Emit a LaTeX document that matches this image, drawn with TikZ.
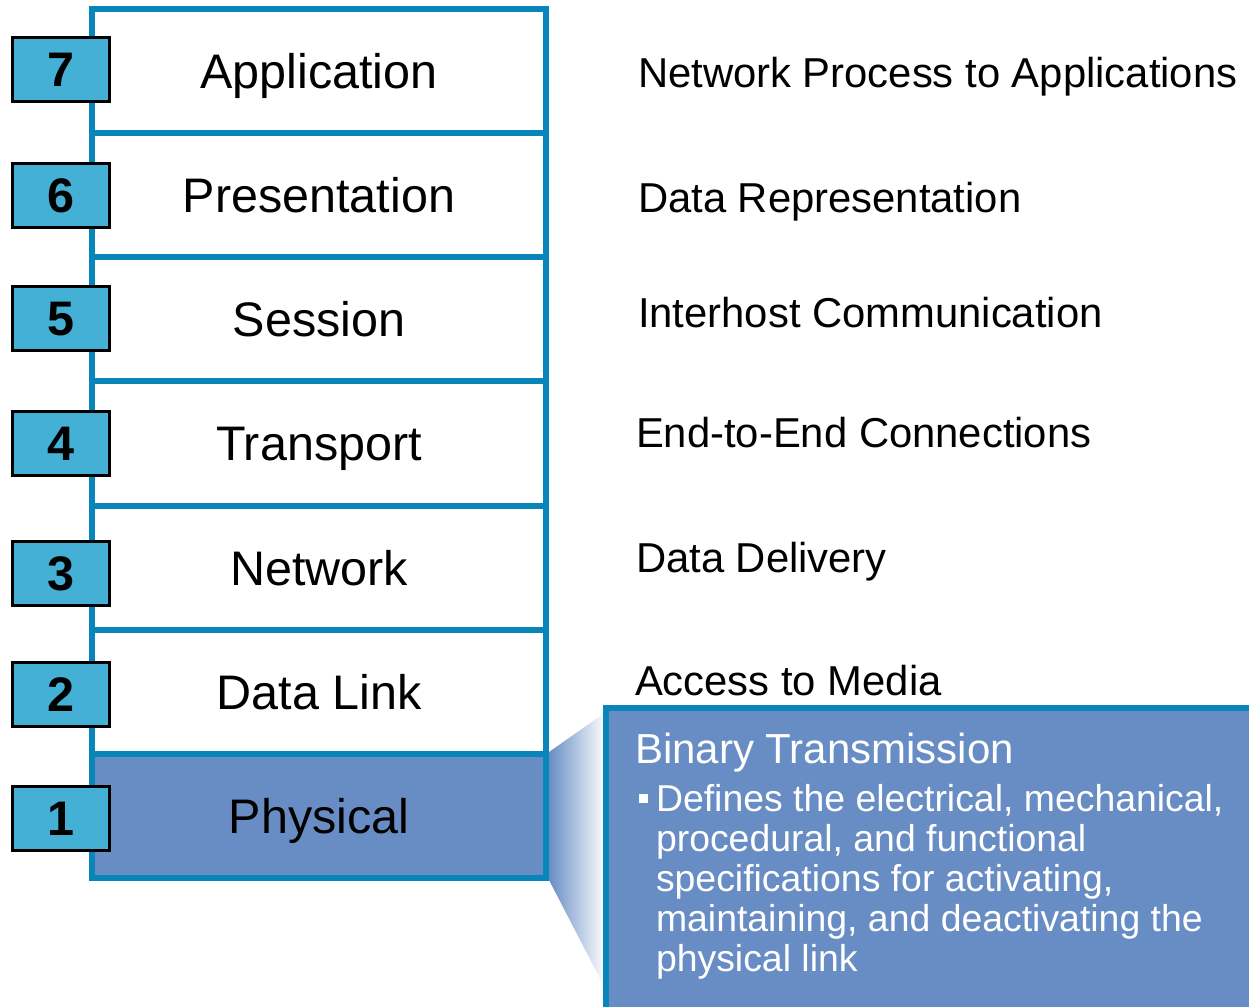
\documentclass[tikz,border=0pt]{standalone}
\usepackage{fontspec}
\setmainfont{Liberation Sans}
\definecolor{osiblue}{RGB}{8,134,186}
\definecolor{numblue}{RGB}{69,176,213}
\definecolor{physblue}{RGB}{104,141,196}
\begin{document}
\begin{tikzpicture}[x=0.5pt,y=-0.5pt,inner sep=0pt,outer sep=0pt,
layer/.style={draw=osiblue,fill=white,rectangle,line width=3pt,minimum width=227pt,minimum height=62.07pt,font=\fontsize{24.25}{29}\selectfont,text height=17.4pt,text depth=0pt},
numbox/.style={draw=black,fill=numblue,rectangle,line width=1.5pt,minimum width=48.5pt,minimum height=32pt,font=\bfseries\fontsize{24.25}{29}\selectfont,text height=17.4pt,text depth=0pt},
desc/.style={anchor=base west,font=\fontsize{20.9}{25}\selectfont}]
\useasboundingbox (0,0) rectangle (1249,1007);
\clip (0,0) rectangle (1249,1007);
\draw (319,71) node[layer] (app) {Application};
\draw (319,195.2) node[layer] (pres) {Presentation};
\draw (319,319.3) node[layer] (sess) {Session};
\draw (319,443.5) node[layer] (trans) {Transport};
\draw (319,567.6) node[layer] (net) {Network};
\draw (319,691.8) node[layer] (link) {Data Link};
\coordinate (wedgetop) at (606,712);
\coordinate (wedgebot) at (606,990);
\shade[left color=physblue,right color=white] (549,752) -- (wedgetop) -- (wedgebot) -- (549,880) -- cycle;
\draw (319,815.9) node[layer,fill=physblue] (phys) {Physical};
\draw (606,708) node[anchor=north west,draw=osiblue,fill=physblue,line width=3pt,minimum width=400pt,minimum height=200pt] (info) {};
\draw (60.5,69) node[numbox] (n7) {7};
\draw (60.5,195) node[numbox] (n6) {6};
\draw (60.5,318) node[numbox] (n5) {5};
\draw (60.5,443) node[numbox] (n4) {4};
\draw (60.5,573) node[numbox] (n3) {3};
\draw (60.5,694) node[numbox] (n2) {2};
\draw (60.5,818) node[numbox] (n1) {1};
\draw (638,87) node[desc] (d7) {Network Process to Applications};
\draw (638,212) node[desc] (d6) {Data Representation};
\draw (638,327) node[desc] (d5) {Interhost Communication};
\draw (636,447) node[desc] (d4) {End-to-End Connections};
\draw (636,572) node[desc] (d3) {Data Delivery};
\draw (635,695) node[desc] (d2) {Access to Media};
\draw (635,763) node[anchor=base west,text=white,font=\fontsize{21}{25}\selectfont] (title) {Binary Transmission};
\draw (643,798) node[fill=white,minimum size=4.5pt] (dot) {};
% base of a multi-line node is its last line
\draw (656,971) node[anchor=base west,align=left,text=white,font=\fontsize{18.7}{20}\selectfont] (spec) {Defines the electrical, mechanical,\\procedural, and functional\\specifications for activating,\\maintaining, and deactivating the\\physical link};
\end{tikzpicture}
\end{document}
